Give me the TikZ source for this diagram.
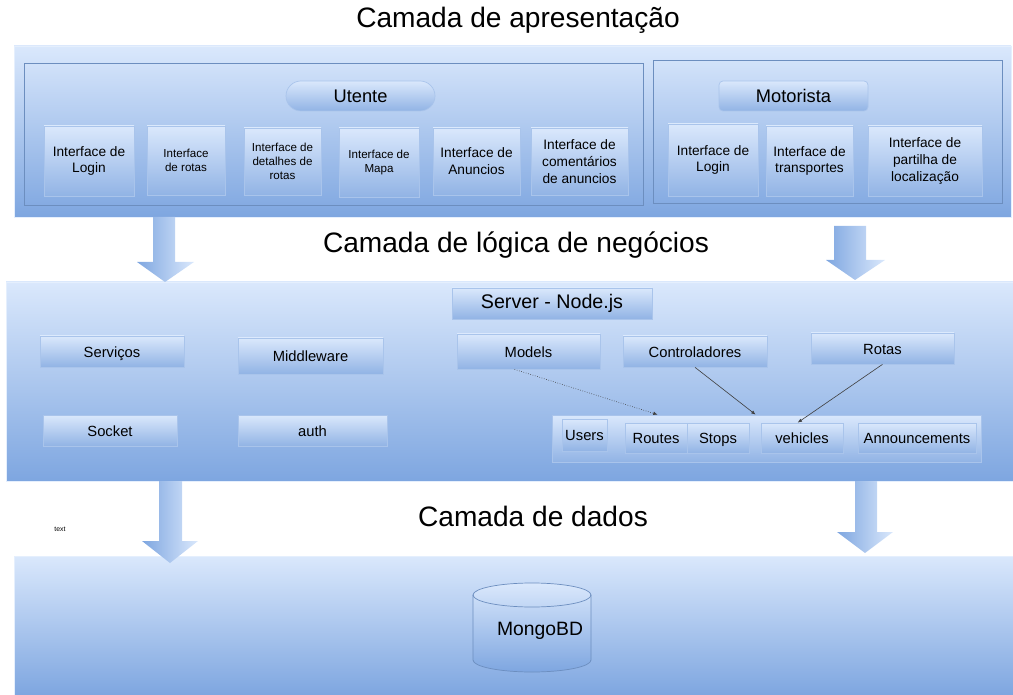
\documentclass[tikz,border=0pt]{standalone}
\usepackage{fontspec}
\setmainfont{Liberation Sans}
\usetikzlibrary{arrows.meta,calc,fit,positioning}
\definecolor{shadeTop}{HTML}{DAE8FC}
\definecolor{shadeBot}{HTML}{7EA6E0}
\definecolor{lineBlue}{HTML}{6C8EBF}
\definecolor{boxLine}{HTML}{A9C4EB}

\begin{document}
\begin{tikzpicture}[x=0.02cm,y=-0.02cm,
  layer/.style={draw=shadeTop!70!white, line width=0.3pt, top color=shadeTop, bottom color=shadeBot, inner sep=0pt},
  group/.style={draw=lineBlue, line width=0.4pt, inner sep=0pt},
  part/.style={draw=boxLine, line width=0.4pt, top color=shadeTop, bottom color=shadeBot!85!white, inner sep=0pt, align=center, font=\fontsize{7.8}{9.6}\selectfont},
  size/.style 2 args={minimum width=#1*0.02cm, minimum height=#2*0.02cm},
  small/.style={font=\fontsize{6.6}{7.9}\selectfont},
  mid/.style={font=\fontsize{8.4}{10}\selectfont, text height=1.6ex, text depth=0.4ex},
  title/.style={font=\fontsize{16}{19}\selectfont},
  flow/.style={left color=shadeBot, right color=shadeTop},
  link/.style={draw=black!75, line width=0.35pt, -{Latex[length=2.5pt,width=2pt]}}
]
\useasboundingbox (0,0) rectangle (1013,695);

% camadas
\node[layer, fit={(14,46) (1011,217)}] (pres) {};
\node[layer, fit={(6,282) (1013,481)}] (logic) {};
\node[layer, fit={(14,556) (1013,695)}] (data) {};

\node[title] (tPres) at (518,20) {Camada de apresentação};
\node[title] (tLogic) at (516,245) {Camada de lógica de negócios};
\node[title] (tData) at (533,516) {Camada de dados};

% setas entre camadas
\path[flow] (153,217) -- (175,217) -- (175,262) -- (194,262) -- (165,282) -- (137,262) -- (153,262) -- cycle;
\path[flow] (834,226) -- (866,226) -- (866,260) -- (885,260) -- (855,280) -- (826,260) -- (834,260) -- cycle;
\path[flow] (159,481) -- (182,481) -- (182,541) -- (198,541) -- (170,563) -- (142,541) -- (159,541) -- cycle;
\path[flow] (855,481) -- (877,481) -- (877,532) -- (893,532) -- (865,553) -- (837,532) -- (855,532) -- cycle;

% apresentacao
\node[group, fit={(24,63) (643,205)}] (gUtente) {};
\node[group, fit={(653,60) (1002,203)}] (gMotor) {};
\node[part, size={149}{30}, rounded corners=0.3cm, font=\fontsize{10.4}{12}\selectfont] (utente) at (360.5,96) {Utente};
\node[part, size={149}{30}, rounded corners=0.08cm, font=\fontsize{10.4}{12}\selectfont] (motorista) at (793.5,96) {Motorista};

\node[part, size={90}{70}] (uLogin) at (89,161) {Interface de\\Login};
\node[part, small, size={78}{69}] (uRotas) at (186,160.5) {Interface\\de rotas};
\node[part, small, size={77}{67}] (uDetalhes) at (282.5,161.5) {Interface de\\detalhes de\\rotas};
\node[part, small, size={80}{69}] (uMapa) at (379,162.5) {Interface de\\Mapa};
\node[part, size={87}{67}] (uAnuncios) at (476.5,161.5) {Interface de\\Anuncios};
\node[part, size={97}{67}] (uComent) at (579.5,161.5) {Interface de\\comentários\\de anuncios};
\node[part, size={90}{72}] (mLogin) at (713,160) {Interface de\\Login};
\node[part, size={87}{70}] (mTransp) at (809.5,161) {Interface de\\transportes};
\node[part, size={114}{70}] (mPartilha) at (925,161) {Interface de\\partilha de\\localização};

% logica de negocios
\node[part, size={200}{31}, font=\fontsize{11.2}{13}\selectfont] (server) at (552,303.5) {Server - Node.js};
\node[part, mid, size={144}{31}] (servicos) at (112,351.5) {Serviços};
\node[part, mid, size={145}{36}] (middleware) at (310.5,356) {Middleware};
\node[part, mid, size={134}{31}] (socket) at (110,430.5) {Socket};
\node[part, mid, size={149}{31}] (auth) at (312.5,430.5) {auth};
\node[part, mid, size={143}{35}] (models) at (528.5,351.5) {Models};
\node[part, mid, size={144}{31}] (ctrl) at (695,351.5) {Controladores};
\node[part, mid, size={143}{31}] (rotas) at (882.5,348.5) {Rotas};

\node[part, size={429}{47}] (collection) at (766.5,438.5) {};
\node[part, mid, size={45}{32}] (users) at (584.5,435) {Users};
\node[part, mid, size={62}{30}] (routes) at (656,438) {Routes};
\node[part, mid, size={62}{30}] (stops) at (718,438) {Stops};
\node[part, mid, size={82}{30}] (vehicles) at (802,438) {vehicles};
\node[part, mid, size={118}{30}] (announce) at (917,438) {Announcements};

\draw[link, densely dotted] ($(models.south)+(-14,0)$) -- ($(collection.north west)+(106,0)$);
\draw[link] (ctrl.south) -- ($(collection.north west)+(204,0)$);
\draw[link] (rotas.south) -- ($(vehicles.north west)+(37,0)$);

% dados
\draw[draw=lineBlue, line width=0.4pt, top color=shadeTop, bottom color=shadeBot] (473,595) -- (473,660) arc[start angle=180, end angle=0, x radius=59, y radius=12] -- (591,595) arc[start angle=0, end angle=-180, x radius=59, y radius=12] -- cycle;
\draw[lineBlue, line width=0.4pt] (473,595) arc[start angle=180, end angle=0, x radius=59, y radius=12];
\node[font=\fontsize{11}{13}\selectfont] (db) at (540,631) {MongoBD};

\node[font=\fontsize{3.9}{4.5}\selectfont] (note) at (60,529) {text};
\end{tikzpicture}
\end{document}
